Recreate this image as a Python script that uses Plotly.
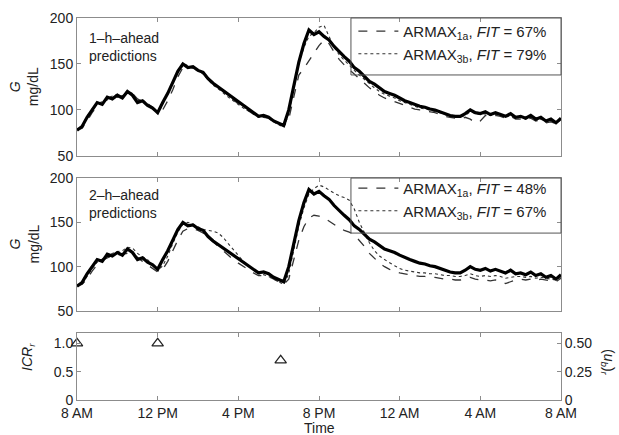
import numpy as np
import plotly.graph_objects as go
from plotly.subplots import make_subplots

# time in hours after 8 AM, 15-min samples
hours = np.arange(0, 24.25, 0.25)

measured = [78, 82, 92, 100, 108, 106, 114, 112, 116, 113, 120, 116, 108, 110, 105, 102,
            97, 108, 118, 130, 142, 150, 146, 147, 143, 141, 134, 129, 125, 120, 116, 112,
            108, 104, 101, 96, 93, 94, 92, 88, 85, 83, 100, 128, 152, 172, 187, 182,
            185, 180, 176, 169, 163, 158, 153, 146, 142, 137, 131, 128, 124, 120, 118, 116,
            113, 110, 108, 106, 104, 103, 101, 100, 98, 96, 94, 93, 93, 96, 100, 97,
            96, 98, 95, 97, 95, 93, 96, 92, 93, 91, 94, 90, 92, 88, 90, 86, 91]

armax1a_1h = [79, 80, 88, 97, 104, 108, 111, 114, 114, 115, 118, 118, 112, 109, 107, 103,
              98, 100, 110, 122, 136, 146, 148, 146, 144, 140, 135, 129, 124, 119, 115, 111,
              106, 102, 99, 95, 92, 92, 91, 88, 85, 82, 90, 115, 138, 145, 153, 162,
              170, 176, 172, 163, 155, 149, 144, 138, 133, 128, 124, 120, 116, 113, 111, 109,
              107, 105, 103, 101, 100, 99, 98, 97, 95, 93, 92, 91, 90, 92, 90, 86,
              88, 94, 93, 94, 93, 91, 93, 90, 90, 89, 91, 88, 89, 86, 87, 85, 88]

armax3b_1h = [78, 83, 93, 101, 107, 109, 113, 115, 117, 115, 121, 118, 110, 111, 106, 101,
              96, 106, 118, 131, 143, 151, 148, 145, 143, 139, 133, 127, 123, 118, 114, 110,
              106, 102, 99, 95, 92, 93, 91, 87, 84, 81, 96, 125, 150, 168, 180, 184,
              190, 192, 180, 168, 160, 154, 149, 143, 138, 133, 128, 124, 120, 117, 115, 113,
              110, 108, 106, 104, 102, 101, 100, 98, 97, 95, 93, 92, 92, 94, 98, 96,
              95, 96, 94, 95, 94, 92, 94, 91, 92, 90, 92, 89, 90, 87, 88, 86, 89]

armax1a_2h = [79, 80, 86, 95, 102, 107, 110, 112, 113, 114, 115, 115, 110, 106, 102, 98,
              94, 97, 106, 118, 130, 140, 143, 143, 141, 138, 133, 128, 122, 117, 112, 108,
              104, 100, 97, 93, 90, 90, 89, 86, 83, 80, 86, 108, 130, 145, 155, 158,
              157, 155, 151, 147, 144, 141, 139, 136, 130, 123, 115, 109, 104, 100, 97, 95,
              93, 92, 91, 90, 89, 89, 88, 88, 87, 86, 86, 85, 85, 86, 88, 86,
              85, 85, 84, 85, 84, 81, 83, 85, 86, 85, 86, 84, 86, 85, 84, 83, 87]

armax3b_2h = [78, 81, 89, 98, 105, 109, 112, 115, 117, 118, 122, 121, 115, 111, 108, 102,
              96, 101, 112, 126, 139, 148, 150, 148, 145, 142, 141, 140, 138, 133, 126, 119,
              112, 106, 101, 96, 92, 91, 89, 86, 83, 80, 92, 120, 146, 166, 182, 188,
              192, 190, 186, 183, 180, 178, 175, 165, 150, 138, 127, 118, 112, 108, 104, 101,
              98, 96, 95, 94, 93, 93, 92, 92, 91, 90, 90, 89, 89, 90, 92, 90,
              89, 90, 89, 90, 89, 87, 88, 89, 89, 88, 89, 87, 88, 87, 86, 85, 88]

icr_hours = [0, 4, 10.1]
icr_values = [1.0, 1.0, 0.7]

tick_hours = [0, 4, 8, 12, 16, 20, 24]
tick_labels = ["8 AM", "12 PM", "4 PM", "8 PM", "12 AM", "4 AM", "8 AM"]

FONT = "Liberation Sans, Arial, sans-serif"
AXIS_GRAY = "#8c8c8c"
TEXT = "#222222"

fig = make_subplots(rows=3, cols=1, shared_xaxes=True,
                    specs=[[{}], [{}], [{"secondary_y": True}]])

# panel 1 : 1-h-ahead
fig.add_trace(go.Scatter(x=hours, y=armax1a_1h, mode="lines", name="ARMAX<sub>1a</sub>, <i>FIT</i> = 67%",
                         line=dict(color="#333333", width=1.3, dash="dash"), legend="legend"), row=1, col=1)
fig.add_trace(go.Scatter(x=hours, y=armax3b_1h, mode="lines", name="ARMAX<sub>3b</sub>, <i>FIT</i> = 79%",
                         line=dict(color="#333333", width=1.1, dash="dot"), legend="legend"), row=1, col=1)
fig.add_trace(go.Scatter(x=hours, y=measured, mode="lines", showlegend=False,
                         line=dict(color="black", width=3.2)), row=1, col=1)

# panel 2 : 2-h-ahead
fig.add_trace(go.Scatter(x=hours, y=armax1a_2h, mode="lines", name="ARMAX<sub>1a</sub>, <i>FIT</i> = 48%",
                         line=dict(color="#333333", width=1.3, dash="dash"), legend="legend2"), row=2, col=1)
fig.add_trace(go.Scatter(x=hours, y=armax3b_2h, mode="lines", name="ARMAX<sub>3b</sub>, <i>FIT</i> = 67%",
                         line=dict(color="#333333", width=1.1, dash="dot"), legend="legend2"), row=2, col=1)
fig.add_trace(go.Scatter(x=hours, y=measured, mode="lines", showlegend=False,
                         line=dict(color="black", width=3.2)), row=2, col=1)

# panel 3 : ICR
fig.add_trace(go.Scatter(x=icr_hours, y=icr_values, mode="markers", showlegend=False, cliponaxis=False,
                         marker=dict(symbol="triangle-up-open", size=10, color=TEXT,
                                     line=dict(width=1.2))), row=3, col=1)
fig.add_trace(go.Scatter(x=[], y=[], mode="lines", showlegend=False), row=3, col=1, secondary_y=True)

axis_common = dict(showline=True, linecolor=AXIS_GRAY, linewidth=1, mirror="ticks",
                   ticks="inside", ticklen=4, tickcolor=AXIS_GRAY, showgrid=False, zeroline=False,
                   automargin=False, tickfont=dict(family=FONT, size=14, color=TEXT))

# secondary_y makes make_subplots shrink the column, so reset the x domain to full width
fig.update_xaxes(range=[0, 24], domain=[0, 1], tickvals=tick_hours, ticktext=tick_labels, **axis_common)
fig.update_xaxes(showticklabels=False, row=1, col=1)
fig.update_xaxes(showticklabels=False, row=2, col=1)

fig.update_yaxes(range=[50, 200], tickvals=[50, 100, 150, 200], domain=[0.639, 1.0], row=1, col=1, **axis_common)
fig.update_yaxes(range=[50, 200], tickvals=[50, 100, 150, 200], domain=[0.233, 0.581], row=2, col=1, **axis_common)
fig.update_yaxes(range=[0, 1.18], tickvals=[0, 0.5, 1.0], ticktext=["0", "0.5", "1.0"],
                 domain=[0, 0.175], row=3, col=1, secondary_y=False, **axis_common)
fig.update_yaxes(range=[0, 0.59], tickvals=[0, 0.25, 0.5], ticktext=["0", "0.25", "0.50"],
                 row=3, col=1, secondary_y=True,
                 **{**axis_common, "mirror": False})

# legend frames
for yref, y0 in [("y domain", 0.587), ("y2 domain", 0.586)]:
    fig.add_shape(type="rect", xref="x domain", yref=yref, x0=0.566, x1=1.0, y0=y0, y1=1.0,
                  line=dict(color="#555555", width=1), fillcolor="rgba(0,0,0,0)")

legend_common = dict(xanchor="left", yanchor="top", bgcolor="rgba(0,0,0,0)", borderwidth=0,
                     font=dict(family=FONT, size=15, color=TEXT), itemwidth=40,
                     tracegroupgap=0)
fig.update_layout(
    legend=dict(x=0.571, y=1.008, **legend_common),
    legend2=dict(x=0.571, y=0.597, **legend_common),
)

annotations = [
    dict(text="1\u2013h\u2013ahead<br>predictions", x=0.02, y=0.975, xanchor="left", yanchor="top",
         align="left"),
    dict(text="2\u2013h\u2013ahead<br>predictions", x=0.02, y=0.562, xanchor="left", yanchor="top",
         align="left"),
    dict(text="<i>G</i><br>mg/dL", x=-0.1095, y=0.819, textangle=-90),
    dict(text="<i>G</i><br>mg/dL", x=-0.1095, y=0.407, textangle=-90),
    dict(text="<i>ICR<sub>r</sub></i>", x=-0.101, y=0.113, textangle=-90),
    dict(text="(<i>u<sub>b</sub></i>)<sub><i>r</i></sub>", x=1.097, y=0.097, textangle=90),
    dict(text="Time", x=0.5, y=-0.073),
]
for a in annotations:
    a.setdefault("xanchor", "center")
    a.setdefault("yanchor", "middle")
    a.update(xref="paper", yref="paper", showarrow=False,
             font=dict(family=FONT, size=14, color=TEXT))

fig.update_layout(
    width=619, height=435, autosize=False,
    margin=dict(l=77, r=58, t=18, b=35, autoexpand=False),
    plot_bgcolor="white", paper_bgcolor="white",
    annotations=annotations,
    font=dict(family=FONT, size=14, color=TEXT),
)

# the page gets default body margins; strip them so the figure sits at the window origin
fig.write_html("out.html", config={"displayModeBar": False, "responsive": False},
               post_script="document.body.style.margin='0';document.body.style.overflow='hidden';")
